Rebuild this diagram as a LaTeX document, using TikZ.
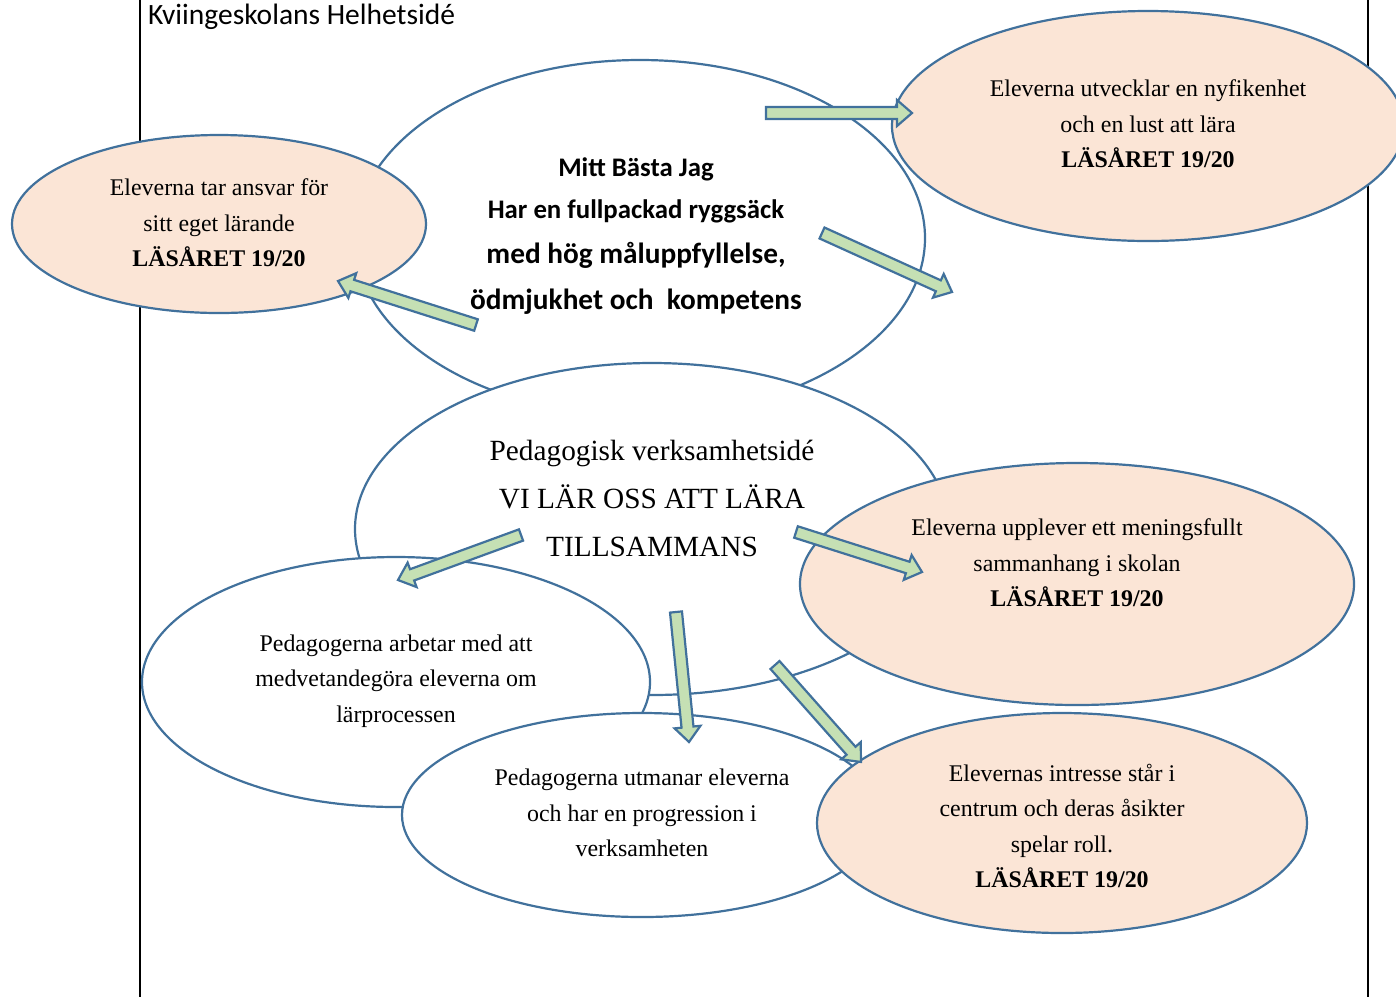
\documentclass[tikz,border=0pt]{standalone}
\usepackage{fontspec}
\setmainfont{Liberation Serif}
\newfontfamily\calibri{Carlito}
\usetikzlibrary{shapes.geometric}
\definecolor{eblue}{HTML}{41719C}
\definecolor{peachc}{HTML}{FBE5D6}
\definecolor{agreen}{HTML}{C5E0B4}
\newcommand\blockarrow[4]{%
 \pgfmathsetmacro\baang{atan2(-((#4)-(#2)),(#3)-(#1))}%
 \pgfmathsetmacro\balen{veclen((#3)-(#1),(#4)-(#2))}%
 \pgfmathsetmacro\babase{\balen-15}%
 \begin{scope}[shift={(#1,#2)},rotate=\baang]
 \draw[barrow] (0,-6) -- (\babase,-6) -- (\babase,-13) -- (\balen,0) -- (\babase,13) -- (\babase,6) -- (0,6) -- cycle;
 \end{scope}}
\begin{document}
\begin{tikzpicture}[x=1pt,y=-1pt,
 ell/.style={ellipse, draw=eblue, line width=2.2pt, inner sep=0pt, outer sep=0pt},
 peach/.style={ell, fill=peachc},
 wht/.style={ell, fill=white},
 barrow/.style={draw=eblue, fill=agreen, line width=2.2pt, line join=miter},
 txt/.style={align=center, inner sep=0pt, font=\fontsize{23.9}{35.5}\selectfont},
 big/.style={inner sep=0pt, font=\fontsize{29.3}{34}\selectfont},
 cal/.style={inner sep=0pt, font=\calibri\bfseries\fontsize{#1}{#1}\selectfont},
 vline/.style={line width=1.6pt, black}]
\useasboundingbox (0,0) rectangle (1396,997);
\clip (0,0) rectangle (1396,997);
\coordinate (l1a) at (140,0); \coordinate (l1b) at (140,997);
\coordinate (l2a) at (1368,0); \coordinate (l2b) at (1368,997);
\draw[vline] (l1a) -- (l1b);
\draw[vline] (l2a) -- (l2b);
\node[anchor=base west, inner sep=0pt, font=\calibri\fontsize{29.5}{33}\selectfont] (title) at (148,24) {Kviingeskolans Helhetsidé};

\node[wht, minimum width=570pt, minimum height=356pt] (etop) at (640,238) {};
\node[peach, minimum width=414pt, minimum height=178pt] (eleft) at (219,224) {};
\node[peach, minimum width=512pt, minimum height=230pt] (eright) at (1148,126) {};
\node[wht, minimum width=594pt, minimum height=332pt] (emid) at (652,529) {};
\node[peach, minimum width=554pt, minimum height=242pt] (ermid) at (1077,584) {};
\node[wht, minimum width=508pt, minimum height=250pt] (ebl) at (396,682) {};
\node[wht, minimum width=480pt, minimum height=204pt] (ebc) at (642,815) {};
\node[peach, minimum width=490pt, minimum height=220pt] (ebr) at (1062,823) {};

% texts
\node[cal=26.8] (m1) at (636,169) {Mitt Bästa Jag};
\node[cal=26.8] (m2) at (636,211) {Har en fullpackad ryggsäck};
\node[cal=29.3] (m3) at (636,255) {med hög måluppfyllelse,};
\node[cal=29.3] (m4) at (636,302) {ödmjukhet och\ \ kompetens};

\node[txt] (tleft) at (219,223) {Eleverna tar ansvar för\\sitt eget lärande\\\textbf{LÄSÅRET 19/20}};
\node[txt] (tright) at (1148,124) {Eleverna utvecklar en nyfikenhet\\och en lust att lära\\\textbf{LÄSÅRET 19/20}};
\node[big] (p1) at (652,453) {Pedagogisk verksamhetsidé};
\node[big] (p2) at (652,497) {VI LÄR OSS ATT LÄRA};
\node[big] (p3) at (652,547) {TILLSAMMANS};
\node[txt] (trmid) at (1077,563) {Eleverna upplever ett meningsfullt\\sammanhang i skolan\\\textbf{LÄSÅRET 19/20}};
\node[txt] (tbl) at (396,681) {Pedagogerna arbetar med att\\medvetandegöra eleverna om\\lärprocessen};
\node[txt] (tbc) at (642,813) {Pedagogerna utmanar eleverna\\och har en progression i\\verksamheten};
\node[txt] (tbr) at (1062,826) {Elevernas intresse står i\\centrum och deras åsikter\\spelar roll.\\\textbf{LÄSÅRET 19/20}};

% block arrows
\blockarrow{766}{113}{912}{113}
\blockarrow{822}{233}{952}{292}
\blockarrow{476}{325}{338}{281}
\blockarrow{521}{535}{398}{580}
\blockarrow{676}{612}{689}{742}
\blockarrow{775}{665}{861}{762}
\blockarrow{796}{532}{922}{572}
\end{tikzpicture}
\end{document}
